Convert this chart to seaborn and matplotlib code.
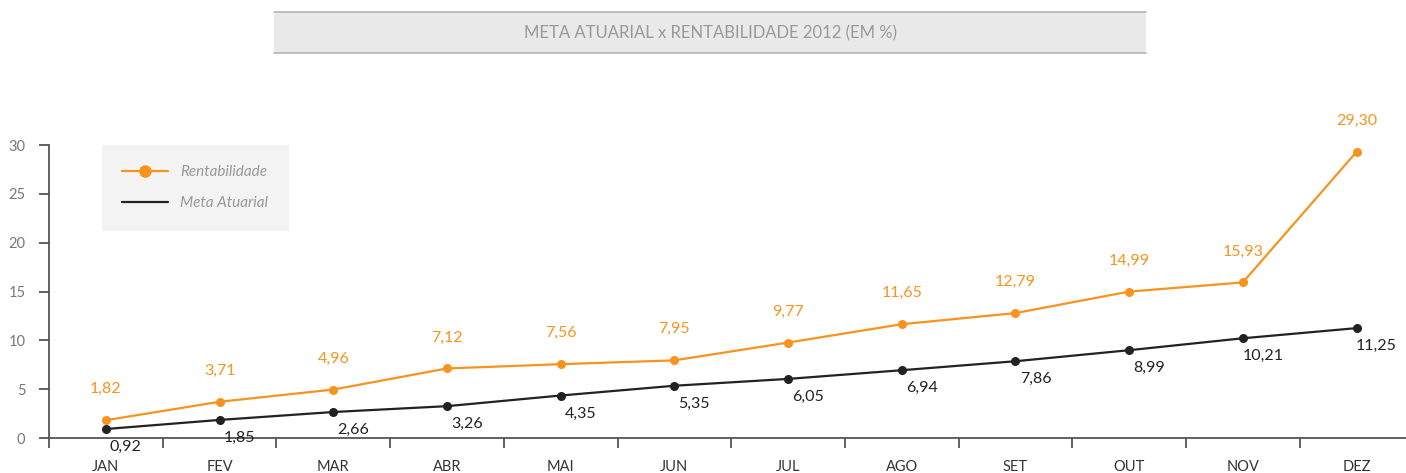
import matplotlib
matplotlib.use("Agg")
import matplotlib.pyplot as plt
import matplotlib.patches as mpatches
from matplotlib.lines import Line2D
import numpy as np
import pandas as pd
import seaborn as sns

MONTHS = ["JAN", "FEV", "MAR", "ABR", "MAI", "JUN", "JUL", "AGO", "SET", "OUT", "NOV", "DEZ"]
RENTABILIDADE = [1.82, 3.71, 4.96, 7.12, 7.56, 7.95, 9.77, 11.65, 12.79, 14.99, 15.93, 29.30]
META_ATUARIAL = [0.92, 1.85, 2.66, 3.26, 4.35, 5.35, 6.05, 6.94, 7.86, 8.99, 10.21, 11.25]
Y_TICKS = [0, 5, 10, 15, 20, 25, 30]

ORANGE = "#F7931E"
BLACK = "#222222"

sns.set_style("white")
plt.rcParams["font.family"] = ["Lato", "DejaVu Sans"]

W, H = 1406, 473
fig = plt.figure(figsize=(W / 100, H / 100), dpi=100)
ax = fig.add_axes([49 / W, 1 - 438 / H, 12 * 113.7 / W, (438 - 145) / H])

x = np.arange(len(MONTHS))
frame = pd.DataFrame({
    "x": np.concatenate([x, x]),
    "valor": RENTABILIDADE + META_ATUARIAL,
    "serie": ["Rentabilidade"] * len(x) + ["Meta Atuarial"] * len(x),
})
sns.lineplot(data=frame, x="x", y="valor", hue="serie", palette={"Rentabilidade": ORANGE, "Meta Atuarial": BLACK},
             marker="o", markersize=6.5, markeredgewidth=0, linewidth=1.6, legend=False, ax=ax)

# value labels
for xi, v in zip(x, RENTABILIDADE):
    ax.annotate(f"{v:.2f}".replace(".", ","), (xi, v), xytext=(0, 31), textcoords="offset pixels",
                ha="center", va="center", color=ORANGE, fontsize=11.5, annotation_clip=False)
for xi, v in zip(x, META_ATUARIAL):
    ax.annotate(f"{v:.2f}".replace(".", ","), (xi, v), xytext=(20, -18), textcoords="offset pixels",
                ha="center", va="center", color=BLACK, fontsize=11.5, annotation_clip=False)

ax.set_xlim(-0.5, len(MONTHS) - 0.5)
ax.set_ylim(0, 30)
ax.set_yticks(Y_TICKS)
ax.set_xticks(x)
ax.set_xticklabels(MONTHS)
ax.set_xticks(np.arange(-0.5, len(MONTHS), 1.0), minor=True)
ax.set_xlabel("")
ax.set_ylabel("")

for side in ["top", "right"]:
    ax.spines[side].set_visible(False)
for side in ["left", "bottom"]:
    ax.spines[side].set_color("#555555")
    ax.spines[side].set_linewidth(1.3)

ax.tick_params(axis="y", which="major", left=True, length=7, width=1.3, color="#555555",
               labelcolor="#777777", labelsize=10.5, pad=10)
ax.tick_params(axis="x", which="major", bottom=False, length=0, labelcolor="#333333", labelsize=10.5, pad=16)
ax.tick_params(axis="x", which="minor", bottom=True, length=7, width=1.3, color="#555555")

# legend box
handles = [
    Line2D([0], [0], color=ORANGE, lw=1.6, marker="o", markersize=9, markeredgewidth=0),
    Line2D([0], [0], color=BLACK, lw=1.6),
]
leg = fig.legend(handles, ["Rentabilidade", "Meta Atuarial"], loc="upper left",
                 bbox_to_anchor=(94 / W, 1 - 137 / H), bbox_transform=fig.transFigure,
                 frameon=True, fancybox=False, facecolor="#f3f3f3", edgecolor="none",
                 borderpad=1.35, labelspacing=1.1, handlelength=3.0, handletextpad=0.8,
                 prop={"style": "italic", "size": 11})
leg.get_frame().set_alpha(1)
for t in leg.get_texts():
    t.set_color("#999999")

# title box
fig.patches.append(mpatches.Rectangle((274 / W, 1 - 53 / H), 872 / W, 41 / H, transform=fig.transFigure,
                                      facecolor="#e9e9e9", edgecolor="none", zorder=0))
fig.add_artist(Line2D([274 / W, 1146 / W], [1 - 12 / H] * 2, color="#b5b5b5", lw=1.2))
fig.add_artist(Line2D([274 / W, 1146 / W], [1 - 53 / H] * 2, color="#b5b5b5", lw=1.2))
fig.text(710 / W, 1 - 33 / H, "META ATUARIAL x RENTABILIDADE 2012 (EM %)", ha="center", va="center",
         color="#999999", fontsize=12)

fig.savefig("out.png", dpi=100)
